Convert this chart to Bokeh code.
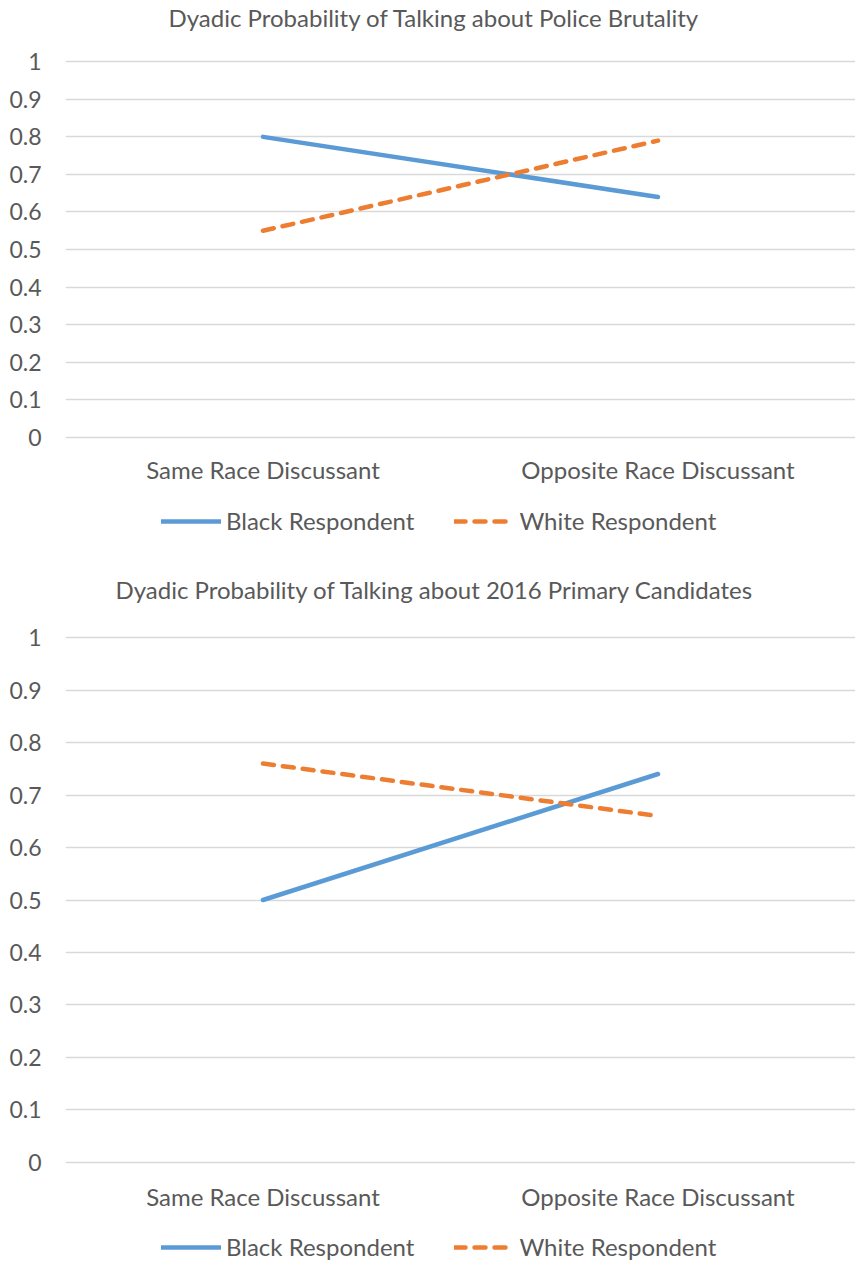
from bokeh.plotting import figure
from bokeh.models import (ColumnDataSource, FactorRange, Range1d, FixedTicker,
                          CustomJSTickFormatter, Legend, LegendItem)
from bokeh.core.properties import value
from bokeh.layouts import column
from bokeh.embed import file_html
from bokeh.resources import INLINE

# ---- data ----
categories = ["Same Race Discussant", "Opposite Race Discussant"]
police_black = [0.80, 0.64]
police_white = [0.55, 0.79]
primary_black = [0.50, 0.74]
primary_white = [0.76, 0.66]
y_ticks = [0, 0.1, 0.2, 0.3, 0.4, 0.5, 0.6, 0.7, 0.8, 0.9, 1.0]
titles = ["Dyadic Probability of Talking about Police Brutality",
          "Dyadic Probability of Talking about 2016 Primary Candidates"]
series_names = ["Black Respondent", "White Respondent"]

FONT = "Lato"
GREY = "#595959"
BLUE = "#5B9BD5"
ORANGE = "#ED7D31"


def make_fig(title, black, white, frame_h, top, y_start, y_end, title_offset,
             label_offset, legend_y):
    p = figure(x_range=FactorRange(*categories),
               y_range=Range1d(y_start, y_end),
               frame_width=790, frame_height=frame_h, output_backend="svg",
               toolbar_location=None, min_border_left=65, min_border_right=0,
               min_border_top=top, min_border_bottom=0)
    p.outline_line_color = None
    p.title.text = title
    p.title.align = "left"
    p.title.offset = title_offset
    p.title.text_font = FONT
    p.title.text_font_size = "24px"
    p.title.text_font_style = "normal"
    p.title.text_color = GREY
    p.title.standoff = 0

    src = ColumnDataSource(dict(x=categories, black=black, white=white,
                                base=[y_ticks[0]] * len(categories)))
    rb = p.line("x", "black", source=src, line_color=BLUE, line_width=4.5,
                line_cap="round")
    rw = p.line("x", "white", source=src, line_color=ORANGE, line_width=4.5,
                line_dash="11 9", line_cap="round")

    # category labels under the zero line
    p.text("x", "base", text="x", source=src, y_offset=label_offset,
           text_align="center", text_baseline="middle",
           text_font=value(FONT), text_font_size="24px", text_color=GREY)

    p.xaxis.visible = False
    p.xgrid.grid_line_color = None
    p.ygrid.ticker = FixedTicker(ticks=y_ticks)
    p.ygrid.grid_line_color = "#D9D9D9"
    p.ygrid.grid_line_width = 1.3
    p.yaxis.ticker = FixedTicker(ticks=y_ticks)
    p.yaxis.formatter = CustomJSTickFormatter(
        code="return tick.toFixed(1).replace(/\\.0$/, '');")
    ax = p.yaxis[0]
    ax.axis_line_color = None
    ax.major_tick_line_color = None
    ax.minor_tick_line_color = None
    ax.major_tick_in = 0
    ax.major_tick_out = 0
    ax.minor_tick_out = 0
    ax.major_label_text_font = FONT
    ax.major_label_text_color = GREY
    ax.major_label_text_font_size = "23px"
    ax.major_label_standoff = 24

    legend = Legend(items=[LegendItem(label=series_names[0], renderers=[rb]),
                           LegendItem(label=series_names[1], renderers=[rw])],
                    orientation="horizontal", location=(96, legend_y),
                    glyph_width=60, glyph_height=24, label_height=24,
                    label_standoff=5, spacing=40, padding=0, margin=0,
                    border_line_color=None, background_fill_alpha=0,
                    label_text_font=FONT, label_text_font_size="24px",
                    label_text_color=GREY)
    p.add_layout(legend)
    return p


p1 = make_fig(titles[0], police_black, police_white, 528, 30,
              -0.3258, 1.0807, 103, 32, 24)
p2 = make_fig(titles[1], primary_black, primary_white, 658, 44,
              -0.1886, 1.0648, 50, 34, 0)

layout = column(p1, p2, spacing=0)
open("out.html", "w").write(file_html(layout, INLINE))
